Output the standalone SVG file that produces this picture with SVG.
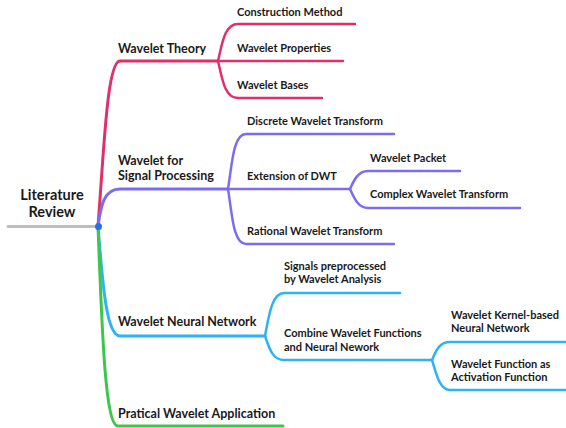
<svg xmlns="http://www.w3.org/2000/svg" width="566" height="428" viewBox="0 0 566 428">
<style>
text{font-family:Lato,"Open Sans","Liberation Sans",sans-serif;font-weight:bold;fill:#1a1a1a}
.root{font-size:14.5px}
.l1{font-size:12.5px}
.l2{font-size:11px}
path{fill:none;stroke-linecap:round}
.red{stroke:#E0306A}
.pur{stroke:#7B6CF2}
.blu{stroke:#2DB4F0}
.grn{stroke:#3CC64C}
.w1{stroke-width:3}
.w2{stroke-width:2.5}
</style>
<rect width="566" height="428" fill="#ffffff"/>
<g id="connectors">
<path d="M8 226.5 L98 226.5" stroke="#BDBDBD" stroke-width="3"/>
<path class="red w1" d="M98 226 C104 150 107 61 120 61 L218 61"/>
<path class="pur w1" d="M98 226 C101 205 104 189 120 189 L228 189"/>
<path class="blu w1" d="M98 226 C103 290 107 336 120 336 L265 336"/>
<path class="grn w1" d="M98 226 C102 330 105 426 118 426 L283 426"/>
<path class="red w2" d="M218 61 C222 45 224 24 238 24 L355 24"/>
<path class="red w2" d="M218 61 L343 61"/>
<path class="red w2" d="M218 61 C222 77 224 98 238 98 L322 98"/>
<path class="pur w2" d="M228 189 C232 165 233 134 246 134 L394 134"/>
<path class="pur w2" d="M228 189 L350 189"/>
<path class="pur w2" d="M228 189 C232 213 233 244 246 244 L394 244"/>
<path class="pur w2" d="M350 189 C354 180 358 171 368 171 L460 171"/>
<path class="pur w2" d="M350 189 C354 198 358 208 368 208 L520 208"/>
<path class="blu w2" d="M265 336 C269 315 272 293 284 293 L400 293"/>
<path class="blu w2" d="M265 336 C269 347 272 360 284 360 L432 360"/>
<path class="blu w2" d="M432 360 C436 351 439 342 450 342 L566 342"/>
<path class="blu w2" d="M432 360 C436 372 439 390 450 390 L566 390"/>
</g>
<g id="root">
<text class="root" x="52" y="200" text-anchor="middle">Literature</text>
<text class="root" x="52" y="217" text-anchor="middle">Review</text>
<circle cx="98.5" cy="226.5" r="3.5" fill="#1E74F0"/>
</g>
<g id="n-wavelet-theory"><text class="l1" x="118" y="53">Wavelet Theory</text></g>
<g id="n-construction"><text class="l2" x="237" y="16">Construction Method</text></g>
<g id="n-properties"><text class="l2" x="237" y="52">Wavelet Properties</text></g>
<g id="n-bases"><text class="l2" x="237" y="89">Wavelet Bases</text></g>
<g id="n-signal"><text class="l1" x="118" y="165">Wavelet for</text><text class="l1" x="118" y="180">Signal Processing</text></g>
<g id="n-dwt"><text class="l2" x="247" y="125">Discrete Wavelet Transform</text></g>
<g id="n-ext"><text class="l2" x="247" y="180">Extension of DWT</text></g>
<g id="n-packet"><text class="l2" x="370" y="162">Wavelet Packet</text></g>
<g id="n-complex"><text class="l2" x="370" y="198">Complex Wavelet Transform</text></g>
<g id="n-rational"><text class="l2" x="247" y="235">Rational Wavelet Transform</text></g>
<g id="n-wnn"><text class="l1" x="118" y="326">Wavelet Neural Network</text></g>
<g id="n-signals"><text class="l2" x="284" y="270">Signals preprocessed</text><text class="l2" x="284" y="283">by Wavelet Analysis</text></g>
<g id="n-combine"><text class="l2" x="284" y="337">Combine Wavelet Functions</text><text class="l2" x="284" y="351">and Neural Nework</text></g>
<g id="n-kernel"><text class="l2" x="451" y="319">Wavelet Kernel-based</text><text class="l2" x="451" y="332">Neural Network</text></g>
<g id="n-activation"><text class="l2" x="451" y="368">Wavelet Function as</text><text class="l2" x="451" y="381">Activation Function</text></g>
<g id="n-practical"><text class="l1" x="118" y="418">Pratical Wavelet Application</text></g>
</svg>
